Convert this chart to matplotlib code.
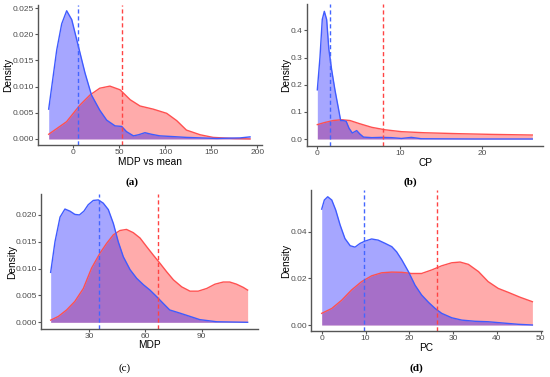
import matplotlib
matplotlib.use("Agg")
import matplotlib.pyplot as plt

plt.rcParams['font.family'] = ['Liberation Sans', 'DejaVu Sans']

# ---- panel (a): MDP vs mean ----
a_blue_x = [-26.4, -17.7, -12.3, -6.9, -1.4, 5.8, 13, 20, 29, 36.5, 45.6, 52.8, 58,
            65.5, 71, 78, 85, 94, 109, 123, 156, 181, 192]
a_blue_y = [0.0057, 0.0170, 0.0220, 0.0245, 0.0228, 0.0177, 0.0126, 0.0084, 0.0055,
            0.0036, 0.0025, 0.0024, 0.0014, 0.0006, 0.0008, 0.0012, 0.0009, 0.0006,
            0.00045, 0.0003, 0.0001, 0.0002, 0.0004]
a_red_x = [-26.4, -7, 7.6, 18.4, 29, 40, 51, 62, 72.7, 87, 101.6, 112.5, 123, 138,
           152, 174, 192]
a_red_y = [0.0009, 0.0033, 0.0065, 0.0084, 0.0097, 0.0101, 0.0094, 0.0075, 0.0063,
           0.0057, 0.0049, 0.0035, 0.0017, 0.0008, 0.0003, 0.0001, 0.0]
a_mean_blue, a_mean_red = 5.5, 53

# ---- panel (b): CP ----
b_blue_x = [0, 0.32, 0.6, 0.85, 1.13, 1.4, 1.74, 2.14, 2.55, 2.83, 3.15, 3.5, 3.84,
            4.24, 4.77, 5.17, 5.6, 6.6, 7.8, 9, 10.2, 11.4, 12.6, 19, 26.06]
b_blue_y = [0.181, 0.30, 0.44, 0.47, 0.44, 0.33, 0.254, 0.18, 0.114, 0.068, 0.068,
            0.065, 0.04, 0.022, 0.031, 0.018, 0.007, 0.005, 0.006, 0.005, 0.002,
            0.006, 0.001, 0.0, 0.0]
b_red_x = [0, 0.93, 1.94, 2.95, 3.96, 5.17, 6.6, 8.2, 10.2, 13, 17.1, 21.1, 26.06]
b_red_y = [0.053, 0.061, 0.068, 0.071, 0.068, 0.056, 0.043, 0.034, 0.027, 0.023,
           0.0196, 0.017, 0.0147]
b_mean_blue, b_mean_red = 1.54, 8.0

# ---- panel (c): MDP ----
c_blue_x = [9.6, 11.9, 14.6, 17.2, 19.9, 22.5, 24.9, 27.3, 29.6, 32.3, 35, 37.6,
            40.3, 43, 45.6, 48.3, 51.9, 55.4, 59, 62.5, 66, 69.6, 73, 78.5, 83.8,
            89, 98, 114.5]
c_blue_y = [0.0093, 0.0150, 0.0196, 0.0211, 0.0207, 0.0201, 0.0200, 0.0207, 0.0219,
            0.0227, 0.0228, 0.0222, 0.0210, 0.0184, 0.0150, 0.0122, 0.0098, 0.0082,
            0.0070, 0.0060, 0.0048, 0.0035, 0.0023, 0.0017, 0.0011, 0.0005, 0.0001,
            0.0]
c_red_x = [9.6, 13.7, 18.1, 22.5, 27, 31.4, 35.9, 39.4, 43, 46.5, 50, 53.6, 57.2,
           60.7, 64.3, 67.8, 71.4, 75, 79.4, 83.8, 88.2, 92.7, 97.1, 101.5, 105,
           108.6, 112.2, 114.5]
c_red_y = [0.0004, 0.0011, 0.0023, 0.0039, 0.0063, 0.0101, 0.0129, 0.0147, 0.0163,
           0.0171, 0.0173, 0.0167, 0.0157, 0.0141, 0.0125, 0.0110, 0.0094, 0.0079,
           0.0066, 0.0058, 0.0058, 0.0063, 0.0071, 0.0075, 0.0075, 0.0071, 0.0065,
           0.0060]
c_mean_blue, c_mean_red = 35.3, 66.6

# ---- panel (d): PC ----
d_blue_x = [0, 0.6, 1.37, 2.3, 3.2, 4.2, 5.3, 6.5, 7.6, 8.75, 9.9, 11.4, 12.9, 14.5,
            16, 17.1, 18.3, 19.8, 21.3, 22.8, 24.4, 25.9, 27.4, 29.7, 32, 35, 38,
            41.1, 44.9, 48.1]
d_blue_y = [0.0497, 0.0536, 0.0550, 0.0536, 0.0493, 0.0429, 0.0371, 0.0340, 0.0334,
            0.0350, 0.0360, 0.0369, 0.0364, 0.0350, 0.0336, 0.0314, 0.0279, 0.0229,
            0.0171, 0.0129, 0.0097, 0.0071, 0.0050, 0.0031, 0.0021, 0.0016, 0.0014,
            0.0009, 0.0003, 0.0]
d_red_x = [0, 2.3, 4.6, 6.8, 9.1, 11.4, 13.7, 16, 18.3, 20.5, 22.8, 25.1, 27.4, 29.7,
           31.6, 33.5, 35.8, 38, 40.3, 42.6, 45.3, 48.1]
d_red_y = [0.0050, 0.0071, 0.0107, 0.0150, 0.0186, 0.0211, 0.0224, 0.0227, 0.0226,
           0.0221, 0.0221, 0.0236, 0.0254, 0.0267, 0.0270, 0.0260, 0.0229, 0.0186,
           0.0157, 0.0140, 0.0119, 0.0100]
d_mean_blue, d_mean_red = 9.67, 26.3

BLUE_FILL, RED_FILL = '#0000FF', '#FF0000'
BLUE_LINE, RED_LINE = '#3F5BFF', '#FF5050'
AXIS_COL = '#555555'


def density_panel(ax, bx, by, rx, ry, mb, mr, xlab, xlim, ylim, xticks, yticks, yfmt,
                  ylab_x, xlab_y):
    ax.fill_between(rx, ry, color=RED_FILL, alpha=0.33, lw=0)
    ax.plot(rx, ry, color=RED_LINE, lw=1.0)
    ax.fill_between(bx, by, color=BLUE_FILL, alpha=0.35, lw=0)
    ax.plot(bx, by, color=BLUE_LINE, lw=1.0)
    ax.axvline(mb, color='#4466FF', ls=(0, (3, 2)), lw=1.0)
    ax.axvline(mr, color='#FF4444', ls=(0, (3, 2)), lw=1.0)
    ax.set_xlim(*xlim)
    ax.set_ylim(*ylim)
    ax.set_xticks(xticks)
    ax.set_yticks(yticks)
    ax.set_yticklabels([yfmt.format(v) for v in yticks])
    for s in ['top', 'right']:
        ax.spines[s].set_visible(False)
    for s in ['left', 'bottom']:
        ax.spines[s].set_color(AXIS_COL)
        ax.spines[s].set_linewidth(1.0)
    ax.tick_params(colors=AXIS_COL, labelcolor='#4D4D4D', labelsize=6,
                   length=2, width=0.8, pad=1)
    ax.set_xlabel(xlab, fontsize=7.3)
    ax.set_ylabel('Density', fontsize=7.3)
    ax.xaxis.set_label_coords(0.5, xlab_y)
    ax.xaxis.label.set_verticalalignment('center')
    ax.yaxis.set_label_coords(ylab_x, 0.5)
    ax.yaxis.label.set_verticalalignment('center')


fig = plt.figure(figsize=(5.5, 3.77), dpi=100)

ax_a = fig.add_axes([0.0691, 0.6154, 0.4073, 0.3713])
density_panel(ax_a, a_blue_x, a_blue_y, a_red_x, a_red_y, a_mean_blue, a_mean_red,
              'MDP vs mean', (-38, 205), (-0.00115, 0.0256),
              [0, 50, 100, 150, 200], [0, 0.005, 0.010, 0.015, 0.020, 0.025], '{:.3f}',
              -0.134, -0.125)

ax_b = fig.add_axes([0.5582, 0.6127, 0.4291, 0.3767])
density_panel(ax_b, b_blue_x, b_blue_y, b_red_x, b_red_y, b_mean_blue, b_mean_red,
              'CP', (-1.25, 27.36), (-0.0258, 0.497),
              [0, 10, 20], [0, 0.1, 0.2, 0.3, 0.4], '{:.1f}',
              -0.089, -0.122)

ax_c = fig.add_axes([0.0745, 0.1273, 0.3945, 0.3581])
density_panel(ax_c, c_blue_x, c_blue_y, c_red_x, c_red_y, c_mean_blue, c_mean_red,
              'MDP', (4.44, 120.0), (-0.00125, 0.0239),
              [30, 60, 90], [0, 0.005, 0.010, 0.015, 0.020], '{:.3f}',
              -0.134, -0.122)

ax_d = fig.add_axes([0.5655, 0.1220, 0.4200, 0.3740])
density_panel(ax_d, d_blue_x, d_blue_y, d_red_x, d_red_y, d_mean_blue, d_mean_red,
              'PC', (-2.44, 50.3), (-0.00257, 0.0579),
              [0, 10, 20, 30, 40, 50], [0, 0.02, 0.04], '{:.2f}',
              -0.108, -0.124)

cap = dict(family=['Liberation Serif', 'DejaVu Serif'], fontsize=8, ha='center', va='center')
fig.text(132 / 550, 1 - 182 / 377, '(a)', fontweight='bold', **cap)
fig.text(410 / 550, 1 - 182 / 377, '(b)', fontweight='bold', **cap)
fig.text(125 / 550, 1 - 368 / 377, '(c)', **cap)
fig.text(416 / 550, 1 - 368 / 377, '(d)', fontweight='bold', **cap)

fig.savefig('out.png', dpi=100)
